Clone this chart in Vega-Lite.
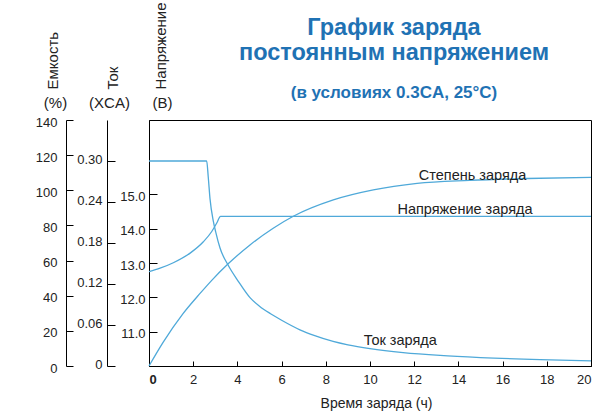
{
  "$schema": "https://vega.github.io/schema/vega-lite/v6.json",
  "width": 442,
  "height": 246,
  "autosize": {"type": "none"},
  "padding": {"left": 149, "top": 120, "right": 14, "bottom": 49},
  "background": "white",
  "config": {
    "view": {"stroke": "#000", "strokeWidth": 1},
    "font": "Liberation Sans",
    "axis": {
      "grid": false,
      "domainColor": "#000",
      "tickColor": "#000",
      "labelColor": "#222",
      "titleColor": "#222",
      "labelFont": "Liberation Sans",
      "titleFont": "Liberation Sans",
      "labelFontSize": 13,
      "titleFontSize": 15,
      "titleFontWeight": "normal"
    }
  },
  "title": {
    "text": ["График заряда", "постоянным напряжением"],
    "subtitle": "(в условиях 0.3CA, 25°C)",
    "frame": "group",
    "anchor": "middle",
    "font": "Liberation Sans",
    "fontSize": 23.5,
    "fontWeight": "bold",
    "color": "#1f72b4",
    "lineHeight": 25,
    "subtitleFont": "Liberation Sans",
    "subtitleFontSize": 17,
    "subtitleFontWeight": "bold",
    "subtitleColor": "#1f72b4",
    "subtitlePadding": 21,
    "offset": -99,
    "dx": 24
  },
  "datasets": {
    "cap": [
      {"t": 0, "v": 0}, {"t": 0.63, "v": 13.3}, {"t": 1.54, "v": 29.8}, {"t": 2.31, "v": 41.3},
      {"t": 2.85, "v": 48.9}, {"t": 3.57, "v": 58.0}, {"t": 4.57, "v": 68.9}, {"t": 5.62, "v": 78.4},
      {"t": 6.53, "v": 85.2}, {"t": 8.34, "v": 94.5}, {"t": 10.15, "v": 100.2}, {"t": 12.13, "v": 103.9},
      {"t": 14.5, "v": 105.6}, {"t": 17.1, "v": 106.7}, {"t": 20, "v": 107.4}
    ],
    "cur": [
      {"t": 0, "v": 0.30}, {"t": 2.61, "v": 0.30}, {"t": 2.68, "v": 0.277}, {"t": 2.76, "v": 0.245},
      {"t": 2.91, "v": 0.212}, {"t": 3.02, "v": 0.196}, {"t": 3.21, "v": 0.173}, {"t": 3.59, "v": 0.147},
      {"t": 4.04, "v": 0.124}, {"t": 4.57, "v": 0.100}, {"t": 5.0, "v": 0.0875}, {"t": 5.5, "v": 0.0765},
      {"t": 6.0, "v": 0.067}, {"t": 6.83, "v": 0.053}, {"t": 7.5, "v": 0.0445}, {"t": 8.33, "v": 0.036},
      {"t": 9.0, "v": 0.031}, {"t": 10.0, "v": 0.0255}, {"t": 11.5, "v": 0.0197}, {"t": 13.17, "v": 0.0155},
      {"t": 15.0, "v": 0.0124}, {"t": 17.7, "v": 0.0093}, {"t": 20, "v": 0.0075}
    ],
    "volt": [
      {"t": 0, "v": 12.75}, {"t": 0.5, "v": 12.85}, {"t": 1.1, "v": 13.01}, {"t": 1.86, "v": 13.29},
      {"t": 2.46, "v": 13.62}, {"t": 2.84, "v": 13.92}, {"t": 3.06, "v": 14.16}, {"t": 3.24, "v": 14.36},
      {"t": 20, "v": 14.36}
    ],
    "labels": [
      {"label": "Степень заряда", "t": 14.64, "v": 108.1},
      {"label": "Напряжение заряда", "t": 14.3, "v": 88.8},
      {"label": "Ток заряда", "t": 11.37, "v": 14.2}
    ]
  },
  "resolve": {"scale": {"y": "independent"}},
  "layer": [
    {
      "data": {"name": "cap"},
      "mark": {"type": "line", "interpolate": "monotone", "color": "#4fa9d9", "strokeWidth": 1.3},
      "encoding": {
        "x": {
          "field": "t", "type": "quantitative",
          "scale": {"domain": [0, 20], "nice": false},
          "axis": {
            "values": [0, 2, 4, 6, 8, 10, 12, 14, 16, 18, 20],
            "title": "Время заряда (ч)",
            "titleFontSize": 14,
            "titleX": 227, "titleY": 37, "titleAlign": "center", "titleBaseline": "middle",
            "tickSize": -5, "labelPadding": 12,
            "labelFontWeight": {"condition": {"test": "datum.value === 0", "value": "bold"}, "value": "normal"}
          }
        },
        "y": {
          "field": "v", "type": "quantitative",
          "scale": {"domain": [0, 140], "nice": false},
          "axis": {
            "orient": "left", "offset": 83,
            "values": [0, 20, 40, 60, 80, 100, 120, 140],
            "format": "d",
            "tickSize": -7, "labelPadding": 16, "labelOffset": 2,
            "title": "Емкость", "titleAngle": 270, "titleX": -14, "titleY": -31,
            "titleAlign": "left", "titleBaseline": "middle"
          }
        }
      }
    },
    {
      "data": {"name": "cur"},
      "mark": {"type": "line", "interpolate": "monotone", "color": "#4fa9d9", "strokeWidth": 1.3},
      "encoding": {
        "x": {"field": "t", "type": "quantitative", "scale": {"domain": [0, 20], "nice": false}},
        "y": {
          "field": "v", "type": "quantitative",
          "scale": {"domain": [0, 0.36], "nice": false},
          "axis": {
            "orient": "left", "offset": 42,
            "values": [0, 0.06, 0.12, 0.18, 0.24, 0.30],
            "labelExpr": "datum.value === 0 ? '0' : format(datum.value, '.2f')",
            "tickSize": -8, "labelPadding": 13, "labelOffset": -2,
            "title": "Ток", "titleAngle": 270, "titleX": 5, "titleY": -31,
            "titleAlign": "left", "titleBaseline": "middle"
          }
        }
      }
    },
    {
      "data": {"name": "volt"},
      "mark": {"type": "line", "interpolate": "monotone", "color": "#4fa9d9", "strokeWidth": 1.3},
      "encoding": {
        "x": {"field": "t", "type": "quantitative", "scale": {"domain": [0, 20], "nice": false}},
        "y": {
          "field": "v", "type": "quantitative",
          "scale": {"domain": [10, 17.17], "nice": false, "zero": false},
          "axis": {
            "orient": "left", "offset": 0,
            "values": [11, 12, 13, 14, 15],
            "format": ".1f",
            "tickSize": -8, "labelPadding": 12, "labelOffset": 2,
            "title": "Напряжение", "titleAngle": 270, "titleX": 11, "titleY": -31,
            "titleAlign": "left", "titleBaseline": "middle"
          }
        }
      }
    },
    {
      "data": {"name": "cap"},
      "mark": {"type": "line", "opacity": 0},
      "encoding": {
        "x": {"field": "t", "type": "quantitative", "scale": {"domain": [0, 20], "nice": false}},
        "y": {
          "field": "v", "type": "quantitative",
          "scale": {"domain": [0, 140], "nice": false},
          "axis": {
            "orient": "left", "offset": 83, "domain": false, "ticks": false, "labels": false,
            "title": "(%)", "titleAngle": 0, "titleX": -11, "titleY": -18,
            "titleAlign": "center", "titleBaseline": "middle"
          }
        }
      }
    },
    {
      "data": {"name": "cur"},
      "mark": {"type": "line", "opacity": 0},
      "encoding": {
        "x": {"field": "t", "type": "quantitative", "scale": {"domain": [0, 20], "nice": false}},
        "y": {
          "field": "v", "type": "quantitative",
          "scale": {"domain": [0, 0.36], "nice": false},
          "axis": {
            "orient": "left", "offset": 42, "domain": false, "ticks": false, "labels": false,
            "title": "(XCA)", "titleAngle": 0, "titleX": 2, "titleY": -18,
            "titleAlign": "center", "titleBaseline": "middle"
          }
        }
      }
    },
    {
      "data": {"name": "volt"},
      "mark": {"type": "line", "opacity": 0},
      "encoding": {
        "x": {"field": "t", "type": "quantitative", "scale": {"domain": [0, 20], "nice": false}},
        "y": {
          "field": "v", "type": "quantitative",
          "scale": {"domain": [10, 17.17], "nice": false, "zero": false},
          "axis": {
            "orient": "left", "offset": 0, "domain": false, "ticks": false, "labels": false,
            "title": "(В)", "titleAngle": 0, "titleX": 13, "titleY": -18,
            "titleAlign": "center", "titleBaseline": "middle"
          }
        }
      }
    },
    {
      "data": {"name": "labels"},
      "mark": {"type": "text", "font": "Liberation Sans", "fontSize": 14.5, "color": "#222", "align": "center", "baseline": "middle"},
      "encoding": {
        "x": {"field": "t", "type": "quantitative", "scale": {"domain": [0, 20], "nice": false}},
        "y": {"field": "v", "type": "quantitative", "scale": {"domain": [0, 140], "nice": false}, "axis": null},
        "text": {"field": "label"}
      }
    }
  ]
}
